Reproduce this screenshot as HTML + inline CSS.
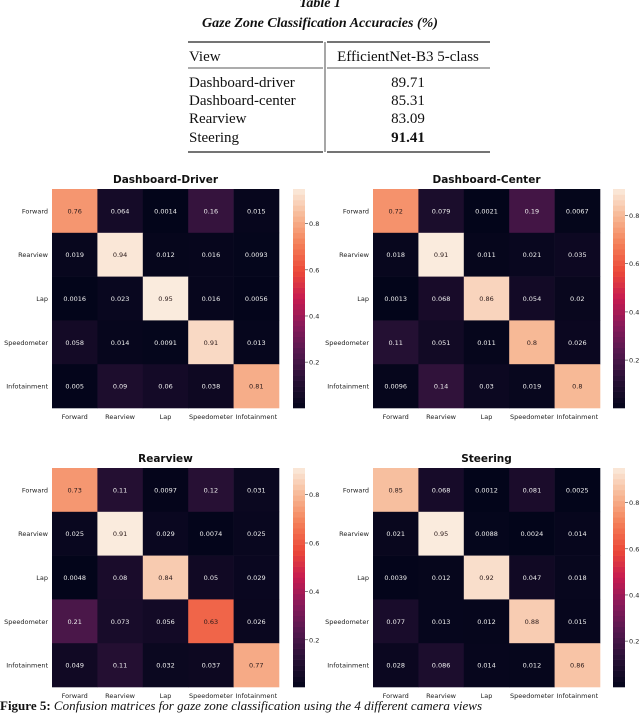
<!DOCTYPE html>
<html><head><meta charset="utf-8"><style>
body{margin:0;background:#fff;width:640px;height:713px;overflow:hidden}
svg{display:block}
</style></head><body>
<svg id="fig" width="640" height="713" viewBox="0 0 640 713" xmlns="http://www.w3.org/2000/svg">
<g font-family="Liberation Serif, serif" fill="#111">
<text x="320" y="7" font-size="14" font-style="italic" font-weight="bold" text-anchor="middle">Table 1</text>
<text x="320" y="27" font-size="14" font-style="italic" font-weight="bold" text-anchor="middle">Gaze Zone Classification Accuracies (%)</text>
<line x1="188" y1="42" x2="323" y2="42" stroke="#222" stroke-width="1.3"/>
<line x1="327" y1="42" x2="490" y2="42" stroke="#222" stroke-width="1.3"/>
<line x1="188" y1="68" x2="323" y2="68" stroke="#222" stroke-width="0.8"/>
<line x1="327" y1="68" x2="490" y2="68" stroke="#222" stroke-width="0.8"/>
<line x1="188" y1="152" x2="323" y2="152" stroke="#222" stroke-width="1.3"/>
<line x1="327" y1="152" x2="490" y2="152" stroke="#222" stroke-width="1.3"/>
<line x1="325" y1="42" x2="325" y2="152" stroke="#222" stroke-width="0.8"/>
<text x="189" y="61" font-size="15">View</text>
<text x="408" y="61" font-size="15" text-anchor="middle">EfficientNet-B3 5-class</text>
<text x="189" y="87" font-size="15">Dashboard-driver</text>
<text x="189" y="105" font-size="15">Dashboard-center</text>
<text x="189" y="123" font-size="15">Rearview</text>
<text x="189" y="142" font-size="15">Steering</text>
<text x="408" y="87" font-size="15" text-anchor="middle">89.71</text>
<text x="408" y="105" font-size="15" text-anchor="middle">85.31</text>
<text x="408" y="123" font-size="15" text-anchor="middle">83.09</text>
<text x="408" y="142" font-size="15" text-anchor="middle" font-weight="bold">91.41</text>
</g>
<text x="0" y="710" font-family="Liberation Serif, serif" font-size="13" fill="#111"><tspan font-weight="bold">Figure 5:</tspan> <tspan font-style="italic">Confusion matrices for gaze zone classification using the 4 different camera views</tspan></text>
</svg>
<script>
const labels = ["Forward","Rearview","Lap","Speedometer","Infotainment"];
const titles = ["Dashboard-Driver","Dashboard-Center","Rearview","Steering"];
const ddValues = [[0.76,0.064,0.0014,0.16,0.015],[0.019,0.94,0.012,0.016,0.0093],[0.0016,0.023,0.95,0.016,0.0056],[0.058,0.014,0.0091,0.91,0.013],[0.005,0.09,0.06,0.038,0.81]];
const dcValues = [[0.72,0.079,0.0021,0.19,0.0067],[0.018,0.91,0.011,0.021,0.035],[0.0013,0.068,0.86,0.054,0.02],[0.11,0.051,0.011,0.8,0.026],[0.0096,0.14,0.03,0.019,0.8]];
const rvValues = [[0.73,0.11,0.0097,0.12,0.031],[0.025,0.91,0.029,0.0074,0.025],[0.0048,0.08,0.84,0.05,0.029],[0.21,0.073,0.056,0.63,0.026],[0.049,0.11,0.032,0.037,0.77]];
const stValues = [[0.85,0.068,0.0012,0.081,0.0025],[0.021,0.95,0.0088,0.0024,0.014],[0.0039,0.012,0.92,0.047,0.018],[0.077,0.013,0.012,0.88,0.015],[0.028,0.086,0.014,0.012,0.86]];
const cbTicks = [0.2,0.4,0.6,0.8];

const NS="http://www.w3.org/2000/svg";
const svg=document.getElementById('fig');
const stops=[[0,[3,5,26]],[0.125,[38,16,52]],[0.25,[82,24,78]],[0.375,[135,26,90]],[0.5,[198,27,80]],[0.625,[236,72,56]],[0.75,[244,128,88]],[0.875,[247,183,148]],[1,[250,235,221]]];
function cmap(t){t=Math.max(0,Math.min(1,t));for(let i=1;i<stops.length;i++){if(t<=stops[i][0]){const a=stops[i-1],b=stops[i];const f=(t-a[0])/(b[0]-a[0]);const c=a[1].map((v,k)=>Math.round(v+(b[1][k]-v)*f));return `rgb(${c[0]},${c[1]},${c[2]})`;}}return 'rgb(250,235,221)';}
function mk(tag,attrs,parent){const e=document.createElementNS(NS,tag);for(const k in attrs)e.setAttribute(k,attrs[k]);parent.appendChild(e);return e;}
const layouts=[{gx:52,gy:189,cb:293},{gx:373,gy:189,cb:613},{gx:52,gy:468,cb:293},{gx:373,gy:468,cb:613}];
const all=[ddValues,dcValues,rvValues,stValues];
const GW=227,GH=219;
all.forEach((vals,ci)=>{
  const L=layouts[ci];
  const g=mk('g',{},svg);
  
  
  const flat=vals.flat();const vmin=Math.min(...flat),vmax=Math.max(...flat);
  const norm=v=>(v-vmin)/(vmax-vmin);
  const cw=GW/labels.length,ch=GH/labels.length;
  const xS=j=>L.gx+j*cw, yS=i=>L.gy+i*ch;
  const t=mk('text',{x:L.gx+GW/2,y:L.gy-6,'text-anchor':'middle','font-family':'DejaVu Sans, sans-serif','font-weight':'bold','font-size':'10.5',fill:'#111'},g);
  t.textContent=titles[ci];
  
  
  vals.forEach((row,i)=>row.forEach((v,j)=>{
    const r=mk('rect',{x:xS(j),y:yS(i),width:cw+0.3,height:ch+0.3,fill:cmap(norm(v))},g);
    
    
    const tx=mk('text',{x:xS(j)+cw/2,y:yS(i)+ch/2+2.5,'text-anchor':'middle','font-family':'DejaVu Sans, sans-serif','font-size':'6.5',fill:norm(v)>0.55?'#2a1a1a':'#eee'},g);
    tx.textContent=String(v);
    
    
  }));
  labels.forEach((lab,i)=>{
    const y=mk('text',{x:L.gx-4,y:yS(i)+ch/2+2.5,'text-anchor':'end','font-family':'DejaVu Sans, sans-serif','font-size':'6.5',fill:'#222'},g);
    y.textContent=lab;
    
    
    const x=mk('text',{x:xS(i)+cw/2,y:L.gy+GH+11,'text-anchor':'middle','font-family':'DejaVu Sans, sans-serif','font-size':'6.5',fill:'#222'},g);
    x.textContent=lab;
    
    
  });
  const n=40,sh=GH/n;
  for(let k=0;k<n;k++){
    const r=mk('rect',{x:L.cb,y:L.gy+GH-(k+1)*sh,width:12,height:sh+0.3,fill:cmap((k+0.5)/n)},g);
    
    
  }
  const cby=v=>L.gy+GH-(v-vmin)/(vmax-vmin)*GH;
  cbTicks.forEach(tv=>{
    if(tv<vmin||tv>vmax)return;
    mk('line',{x1:L.cb+12,x2:L.cb+15,y1:cby(tv),y2:cby(tv),stroke:'#333','stroke-width':0.6},g);
    const tt=mk('text',{x:L.cb+16,y:cby(tv)+2.5,'font-family':'DejaVu Sans, sans-serif','font-size':'6.5',fill:'#222'},g);
    tt.textContent=String(tv);
    
    
  });
});
</script>
</body></html>
